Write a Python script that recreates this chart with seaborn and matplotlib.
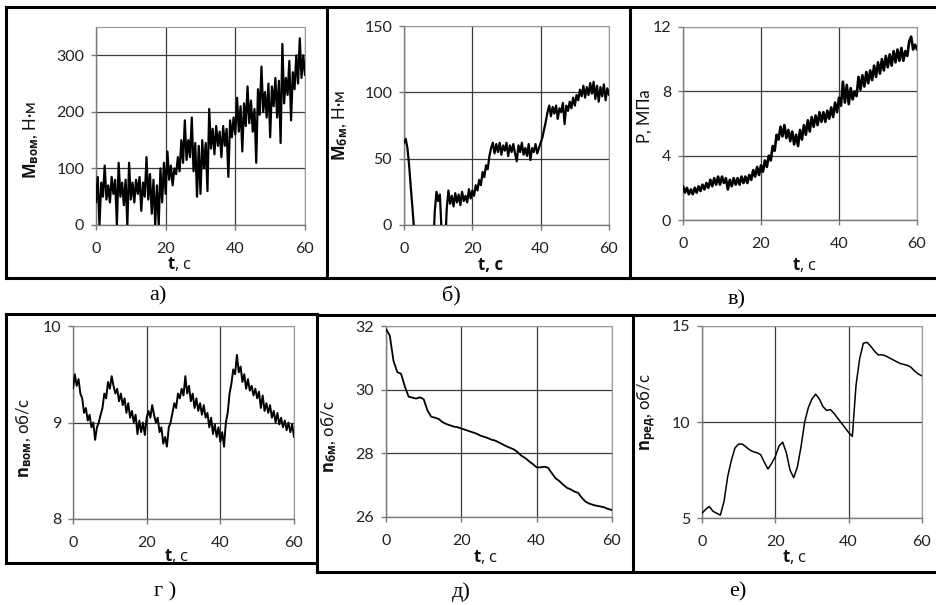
import numpy as np
import matplotlib
matplotlib.use("Agg")
import matplotlib.pyplot as plt
from matplotlib.lines import Line2D
import seaborn as sns

# ---------------- data ----------------
t_half = np.arange(0, 60.01, 0.5)   # sample times, 0.5 s
t_one = np.arange(0, 61, 1)         # sample times, 1 s

m_vom = [40, 85, 0, 75, 50, 105, 45, 70, 40, 85,
         55, 80, 0, 110, 50, 75, 35, 80, 0, 110,
         45, 75, 40, 80, 55, 85, 25, 75, 50, 120,
         45, 90, 20, 80, 0, 70, 0, 100, 40, 110,
         55, 130, 80, 105, 70, 100, 90, 120, 95, 150,
         110, 185, 115, 150, 120, 190, 95, 145, 50, 140,
         55, 150, 100, 145, 60, 205, 135, 170, 125, 175,
         140, 165, 120, 175, 140, 170, 85, 185, 155, 190,
         160, 225, 165, 210, 130, 215, 175, 245, 180, 220,
         165, 205, 110, 240, 195, 280, 200, 235, 190, 250,
         155, 245, 210, 260, 190, 255, 145, 320, 215, 260,
         230, 290, 185, 270, 240, 300, 250, 330, 260, 300,
         265]

m_bm = [62, 65, 58, 45, 28, 12, -5, -20, -20, -20,
        -20, -20, -20, -20, -20, -20, -20, -20, 10, 25,
        18, 23, -5, -20, -20, 12, 26, 16, 22, 14,
        24, 17, 23, 15, 25, 18, 22, 17, 27, 20,
        26, 22, 30, 26, 34, 30, 40, 36, 45, 42,
        52, 58, 62, 54, 61, 55, 62, 53, 60, 56,
        62, 52, 60, 55, 61, 54, 48, 60, 55, 62,
        53, 58, 52, 61, 49, 58, 55, 61, 54, 58,
        62, 66, 72, 78, 85, 90, 82, 89, 84, 90,
        80, 88, 85, 92, 76, 90, 86, 93, 88, 96,
        90, 98, 94, 102, 97, 105, 96, 104, 98, 107,
        99, 108, 95, 105, 93, 104, 97, 106, 94, 103,
        98]

p_mpa = [2.1, 1.7, 2.0, 1.6, 1.9, 1.6, 2.0, 1.7, 2.1, 1.8,
         2.2, 1.9, 2.3, 2.0, 2.5, 2.1, 2.6, 2.2, 2.7, 2.2,
         2.7, 2.3, 2.6, 1.9, 2.5, 2.1, 2.6, 2.2, 2.6, 2.2,
         2.7, 2.3, 2.7, 2.3, 2.8, 2.5, 3.1, 2.7, 3.3, 2.8,
         3.4, 3.0, 3.7, 3.3, 4.0, 3.7, 4.6, 4.3, 5.3, 5.0,
         5.8, 5.2, 5.9, 5.1, 5.6, 4.9, 5.5, 4.7, 5.3, 4.6,
         5.6, 5.0, 5.9, 5.3, 6.2, 5.5, 6.4, 5.8, 6.5, 5.9,
         6.7, 6.1, 6.7, 6.1, 6.8, 6.3, 7.0, 6.4, 7.3, 6.7,
         7.6, 7.1, 8.6, 7.3, 8.4, 7.2, 8.2, 7.5, 8.0, 7.7,
         8.9, 8.1, 9.0, 8.3, 9.2, 8.5, 9.3, 8.7, 9.6, 8.9,
         9.8, 9.1, 10.0, 9.3, 10.2, 9.5, 10.3, 9.6, 10.5, 9.8,
         10.6, 9.9, 10.7, 9.9, 10.5, 10.2, 11.1, 11.4, 10.6, 10.9,
         10.6]

n_vom = [9.35, 9.5, 9.38, 9.45, 9.3, 9.25, 9.1, 9.15, 9.02, 9.08,
         8.95, 9.0, 8.82, 8.95, 9.0, 9.08, 9.15, 9.3, 9.25, 9.42,
         9.35, 9.48, 9.38, 9.3, 9.35, 9.22, 9.3, 9.18, 9.25, 9.1,
         9.2, 9.05, 9.12, 9.0, 9.08, 8.88, 9.02, 8.9, 9.0, 8.87,
         9.05, 9.12, 9.05, 9.18, 9.08, 9.0, 9.05, 8.9, 8.95, 8.78,
         8.85, 8.75, 8.95, 9.0, 9.1, 9.2, 9.15, 9.3, 9.25, 9.35,
         9.28, 9.48, 9.3, 9.38, 9.22, 9.3, 9.15, 9.25, 9.12, 9.2,
         9.08, 9.18, 9.05, 9.1, 8.95, 9.05, 8.88, 8.98, 8.85, 8.95,
         8.8, 8.9, 8.75, 9.0, 9.1, 9.3, 9.4, 9.55, 9.5, 9.7,
         9.52, 9.58, 9.42, 9.5, 9.35, 9.45, 9.33, 9.38, 9.28, 9.35,
         9.25, 9.32, 9.15, 9.28, 9.12, 9.2, 9.1, 9.18, 9.05, 9.12,
         9.0, 9.1, 8.98, 9.05, 8.95, 9.02, 8.92, 9.0, 8.9, 8.98,
         8.85]

n_bm = [31.9, 31.7, 30.9, 30.55, 30.5, 30.1, 29.78, 29.75, 29.72, 29.76,
        29.7, 29.35, 29.15, 29.12, 29.08, 28.98, 28.92, 28.88, 28.84, 28.82,
        28.78, 28.74, 28.7, 28.66, 28.62, 28.56, 28.52, 28.48, 28.43, 28.4,
        28.34, 28.28, 28.22, 28.17, 28.12, 28.03, 27.92, 27.85, 27.75, 27.66,
        27.56, 27.56, 27.58, 27.55, 27.38, 27.22, 27.13, 27.02, 26.92, 26.87,
        26.8, 26.76, 26.6, 26.48, 26.42, 26.38, 26.35, 26.33, 26.3, 26.25,
        26.22]

n_red = [5.25, 5.45, 5.6, 5.35, 5.25, 5.15, 5.85, 7.15, 8.0, 8.65,
         8.85, 8.85, 8.7, 8.55, 8.45, 8.4, 8.3, 7.9, 7.55, 7.85,
         8.2, 8.75, 8.95, 8.4, 7.5, 7.1, 7.65, 8.7, 10.0, 10.75,
         11.2, 11.45, 11.2, 10.8, 10.6, 10.65, 10.45, 10.2, 9.95, 9.7,
         9.45, 9.25, 11.9, 13.3, 14.1, 14.15, 13.95, 13.7, 13.5, 13.5,
         13.45, 13.35, 13.25, 13.15, 13.05, 13.0, 12.95, 12.85, 12.65, 12.5,
         12.4]

x_ticks = [0, 20, 40, 60]
ylabels = [r"$\mathbf{M}_{\mathbf{вом}}$, Н·м", r"$\mathbf{M}_{\mathbf{бм}}$, Н·м", "P, МПа",
           r"$\mathbf{n}_{\mathbf{вом}}$, об/с", r"$\mathbf{n}_{\mathbf{бм}}$, об/с",
           r"$\mathbf{n}_{\mathbf{ред}}$, об/с"]
xlabels = [r"$\mathbf{t}$, с", "t, с", r"$\mathbf{t}$, с",
           r"$\mathbf{t}$, с", r"$\mathbf{t}$, с", r"$\mathbf{t}$, с"]
captions = ["а)", "б)", "в)", "г )", "д)", "е)"]

# ---------------- style ----------------
sns.set_theme(style="white")
plt.rcParams["font.family"] = ["Lato", "Open Sans", "DejaVu Sans"]
plt.rcParams["mathtext.fontset"] = "custom"
plt.rcParams["mathtext.rm"] = "Open Sans"
plt.rcParams["mathtext.bf"] = "Open Sans:bold"
plt.rcParams["mathtext.it"] = "Open Sans:italic"

W, H = 937, 605
fig = plt.figure(figsize=(W / 100, H / 100), dpi=100)


def px_axes(x1, y1, x2, y2):
    return fig.add_axes([x1 / W, (H - y2) / H, (x2 - x1) / W, (y2 - y1) / H])


line_widths = [1.6, 1.6, 1.9, 1.4, 1.3, 1.1]

panels = [
    # (box px, series, t, ylim, yticks, ylabel coords, xlabel coords, caption pos)
    ((96, 27, 305, 225), m_vom, t_half, (0, 350), [0, 100, 200, 300], (-0.265, 0.43), (0.40, -0.15), (158, 296)),
    ((404, 26, 609, 225), m_bm, t_half, (0, 150), [0, 50, 100, 150], (-0.265, 0.50), (0.42, -0.155), (451, 296)),
    ((683, 27, 917, 220), p_mpa, t_half, (0, 12), [0, 4, 8, 12], (-0.13, 0.54), (0.52, -0.187), (737, 300)),
    ((73, 326, 294, 519), n_vom, t_half, (8, 10), [8, 9, 10], (-0.175, 0.42), (0.47, -0.145), (165, 592)),
    ((386, 326, 612, 517), n_bm, t_one, (26, 32), [26, 28, 30, 32], (-0.21, 0.42), (0.44, -0.16), (461, 592)),
    ((702, 326, 922, 518), n_red, t_one, (5, 15), [5, 10, 15], (-0.20, 0.55), (0.42, -0.156), (738, 592)),
]

for i, (box, vals, tt, ylim, yt, ylc, xlc, cap) in enumerate(panels):
    ax = px_axes(*box)
    sns.lineplot(x=tt, y=vals, ax=ax, color="black", lw=line_widths[i],
                 estimator=None, sort=False, legend=False, zorder=3)
    ax.set_xlim(0, 60)
    ax.set_ylim(*ylim)
    ax.set_xticks(x_ticks)
    ax.set_yticks(yt)
    ax.grid(True, color="#3a3a3a", lw=0.9, zorder=1)
    for s in ["top", "right"]:
        ax.spines[s].set_color("#9a9a9a")
        ax.spines[s].set_linewidth(0.8)
    for s in ["left", "bottom"]:
        ax.spines[s].set_color("#7a7a7a")
        ax.spines[s].set_linewidth(1.0)
    ax.tick_params(axis="both", direction="out", length=3.5, width=1, color="#7a7a7a",
                   labelsize=11.5, labelcolor="#222222", bottom=True, left=True)
    ax.tick_params(axis="x", pad=9)
    ax.tick_params(axis="y", pad=5)
    ax.set_ylabel(ylabels[i], fontsize=12, color="#111111")
    ax.yaxis.set_label_coords(*ylc)
    if i == 1:
        ax.set_xlabel(xlabels[i], fontsize=12, color="#111111", va="top",
                      family="Open Sans", fontweight="bold")
    else:
        ax.set_xlabel(xlabels[i], fontsize=12, color="#111111", va="top",
                      family="Open Sans")
    ax.xaxis.set_label_coords(*xlc)
    fig.text(cap[0] / W, 1 - cap[1] / H, captions[i], ha="center", va="center",
             fontsize=16, family="Liberation Serif", color="black")


def seg(x1, y1, x2, y2):
    fig.add_artist(Line2D([x1 / W, x2 / W], [1 - y1 / H, 1 - y2 / H],
                          transform=fig.transFigure, color="black", lw=2.2,
                          solid_capstyle="projecting"))


# frames of the top row
seg(6, 7, 937, 7)
seg(6, 278, 937, 278)
seg(6, 7, 6, 278)
seg(327, 7, 327, 278)
seg(630, 7, 630, 278)
# frames of the bottom row
seg(6, 314, 317, 314)
seg(317, 315, 937, 315)
seg(6, 314, 6, 563)
seg(6, 563, 317, 563)
seg(317, 314, 317, 572)
seg(317, 572, 937, 572)
seg(633, 315, 633, 572)

fig.savefig("out.png", dpi=100)
